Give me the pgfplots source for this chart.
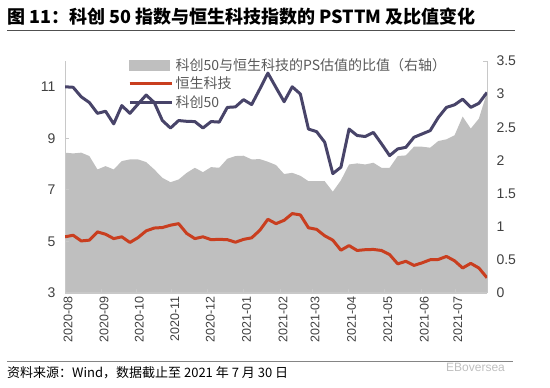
\documentclass[border=0pt]{standalone}
\usepackage{pgfplots}
\pgfplotsset{compat=1.18}
\usepackage{pgfplotstable}
\usepackage{fontspec}
\setmainfont{Liberation Sans}
\newfontfamily\cjk{Noto Sans CJK SC}
\definecolor{areagray}{RGB}{191,191,191}
\definecolor{hsred}{RGB}{201,62,31}
\definecolor{kcpurple}{RGB}{72,68,105}
\definecolor{ticktext}{RGB}{64,64,64}
\definecolor{legtext}{RGB}{89,89,89}
\definecolor{axisgray}{RGB}{200,200,200}
\definecolor{rulegray}{RGB}{80,80,80}

\pgfplotstableread{
i kc hs ratio
0 11.00 5.18 2.117
1 10.98 5.24 2.106
2 10.61 5.02 2.117
3 10.39 5.05 2.066
4 9.97 5.37 1.864
5 10.05 5.28 1.914
6 9.56 5.11 1.864
7 10.27 5.18 1.990
8 9.97 4.96 2.015
9 10.33 5.15 2.015
10 10.68 5.41 1.975
11 10.39 5.52 1.864
12 9.69 5.54 1.737
13 9.40 5.63 1.672
14 9.69 5.69 1.712
15 9.66 5.31 1.813
16 9.65 5.11 1.889
17 9.40 5.18 1.823
18 9.65 5.07 1.899
19 9.63 5.08 1.889
20 10.20 5.07 2.025
21 10.22 4.97 2.066
22 10.50 5.08 2.071
23 10.31 5.14 2.015
24 10.91 5.43 2.020
25 11.53 5.86 1.980
26 10.97 5.69 1.930
27 10.42 5.82 1.795
28 11.00 6.08 1.813
29 10.72 6.03 1.768
30 9.36 5.53 1.687
31 9.26 5.47 1.687
32 8.85 5.22 1.687
33 7.63 5.05 1.528
34 7.88 4.66 1.700
35 9.36 4.84 1.939
36 9.11 4.65 1.955
37 9.07 4.68 1.939
38 9.23 4.69 1.965
39 8.79 4.65 1.889
40 8.33 4.49 1.889
41 8.59 4.13 2.066
42 8.65 4.23 2.076
43 9.04 4.07 2.207
44 9.17 4.17 2.207
45 9.30 4.29 2.192
46 9.81 4.30 2.293
47 10.20 4.42 2.318
48 10.30 4.25 2.379
49 10.52 3.97 2.662
50 10.20 4.15 2.480
51 10.36 3.97 2.631
52 10.78 3.59 3.025
}\data

\begin{document}
\begin{tikzpicture}
\useasboundingbox (0,0) rectangle (550bp,388bp);
% title
\node[anchor=base west, inner sep=0pt] at (7bp,364bp) {\cjk\bfseries\fontsize{18bp}{20bp}\selectfont 图 11：科创 50 指数与恒生科技指数的 PSTTM 及比值变化};
\draw[rulegray, line width=0.9bp] (7bp,357.5bp) -- (515bp,357.5bp);

% right axis: ratio area
\begin{axis}[
  at={(65bp,95bp)}, anchor=south west, scale only axis,
  width=422bp, height=232bp,
  xmin=0, xmax=52, ymin=0, ymax=3.5,
  axis x line=none, axis y line*=right,
  ytick={0,0.5,1,1.5,2,2.5,3,3.5},
  yticklabels={0,0.5,1,1.5,2,2.5,3,3.5},
  y axis line style={axisgray, line width=0.8bp, -},
  ytick style={axisgray, line width=0.8bp},
  tick align=inside, major tick length=4bp,
  yticklabel style={font=\fontsize{14bp}{16bp}\selectfont, text=ticktext, xshift=6bp},
]
\addplot[fill=areagray, draw=none] table[x=i, y=ratio]{\data} \closedcycle;
\end{axis}

% left axis: lines
\begin{axis}[
  at={(65bp,95bp)}, anchor=south west, scale only axis,
  width=422bp, height=232bp,
  xmin=0, xmax=52, ymin=3, ymax=12,
  axis x line*=bottom, axis y line*=left,
  ytick={3,5,7,9,11},
  yticklabels={3,5,7,9,11},
  xtick={0,4.43,8.8,13.15,17.55,22.0,26.5,30.45,34.95,39.4,43.9,48.05},
  xticklabels={2020-08,2020-09,2020-10,2020-11,2020-12,2021-01,2021-02,2021-03,2021-04,2021-05,2021-06,2021-07},
  x axis line style={axisgray, line width=2bp, -},
  y axis line style={axisgray, line width=0.8bp, -},
  tick style={axisgray, line width=0.8bp},
  tick align=inside, major tick length=4bp,
  yticklabel style={font=\fontsize{14bp}{16bp}\selectfont, text=ticktext, xshift=-6bp},
  xticklabel style={font=\fontsize{12.5bp}{14bp}\selectfont, text=ticktext, rotate=90, anchor=east, yshift=-3bp},
  legend cell align=left,
  legend style={draw=none, fill=none, at={(0.142,1.03)}, anchor=north west,
    font=\cjk\fontsize{14bp}{16bp}\selectfont, text=legtext, row sep=0bp,
    nodes={inner sep=2.5bp}},
]
\addlegendimage{legend image code/.code={\fill[areagray] (0bp,-5bp) rectangle (40bp,5bp);}}
\addlegendentry{科创50与恒生科技的PS估值的比值（右轴）}
\addplot[hsred, line width=3bp, line join=round, legend image code/.code={\draw[hsred, line width=3bp] (0bp,0bp) -- (42bp,0bp);}] table[x=i, y=hs]{\data};
\addlegendentry{恒生科技}
\addplot[kcpurple, line width=3bp, line join=round, legend image code/.code={\draw[kcpurple, line width=3bp] (0bp,0bp) -- (42bp,0bp);}] table[x=i, y=kc]{\data};
\addlegendentry{科创50}
\end{axis}

% footer
\draw[rulegray!70, line width=0.8bp] (7bp,26.3bp) -- (513bp,26.3bp);
\node[anchor=base west, inner sep=0pt] at (7bp,11bp) {\cjk\fontsize{13bp}{15bp}\selectfont 资料来源：Wind，数据截止至 2021 年 7 月 30 日};
\node[anchor=base west, inner sep=0pt, text=black!25] at (446bp,17bp) {\fontsize{12bp}{14bp}\selectfont EBoversea};
\end{tikzpicture}
\end{document}
